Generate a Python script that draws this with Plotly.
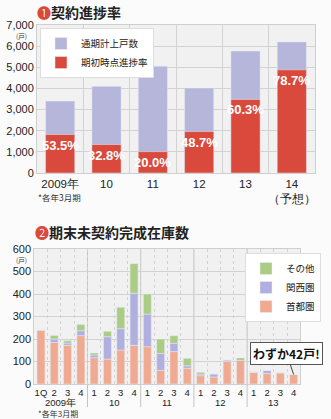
import plotly.graph_objects as go

# ---- Chart 1 data ----
years1 = ["2009年", "10", "11", "12", "13", "14<br>（予想）"]
total_units = [3400, 4100, 5050, 4020, 5770, 6200]
initial_units = [1820, 1345, 1010, 1960, 3480, 4880]
rate_labels = ["53.5%", "32.8%", "20.0%", "48.7%", "60.3%", "78.7%"]

# ---- Chart 2 data ----
year_groups = ["2009年"] * 4 + ["10"] * 4 + ["11"] * 4 + ["12"] * 4 + ["13"] * 4
quarters = ["1Q", "2", "3", "4"] + ["1", "2", "3", "4"] * 4
shutoken = [240, 185, 172, 215, 117, 111, 151, 172, 166, 61, 144, 70, 37, 31, 101, 105, 53, 47, 50, 42]
kansai = [0, 15, 10, 22, 12, 99, 95, 231, 145, 75, 37, 11, 7, 14, 6, 0, 0, 13, 0, 0]
other = [0, 16, 10, 28, 9, 24, 95, 132, 89, 64, 34, 33, 8, 0, 0, 11, 0, 0, 0, 0]

LAV = "#b6b5da"
RED = "#d94a3c"
PINK = "#f0aa92"
PURP = "#b1afdf"
GREEN = "#abcc84"
GRID = "#d2d2d2"
PLOTBG = "#f1f1f1"
NUMFONT = "Liberation Sans Narrow, Liberation Sans, sans-serif"
JPFONT = "Noto Sans CJK JP, sans-serif"

W, H = 331, 419
def px(x):
    return x / W
def py(y):
    return 1 - y / H

x1 = list(range(len(years1)))
x2 = list(range(len(quarters)))

fig = go.Figure()

# Chart 1 bars (overlay)
fig.add_trace(go.Bar(x=x1, y=total_units, name="通期計上戸数", marker_color=LAV,
                     width=0.63, xaxis="x", yaxis="y", legend="legend"))
fig.add_trace(go.Bar(x=x1, y=initial_units, name="期初時点進捗率", marker_color=RED,
                     width=0.63, xaxis="x", yaxis="y", legend="legend"))

# Chart 2 bars (stacked via base)
base_k = shutoken
base_o = [a + b for a, b in zip(shutoken, kansai)]
fig.add_trace(go.Bar(x=x2, y=shutoken, name="首都圏", marker_color=PINK, width=0.6,
                     xaxis="x2", yaxis="y2", legend="legend2"))
fig.add_trace(go.Bar(x=x2, y=kansai, base=base_k, name="関西圏", marker_color=PURP, width=0.6,
                     xaxis="x2", yaxis="y2", legend="legend2"))
fig.add_trace(go.Bar(x=x2, y=other, base=base_o, name="その他", marker_color=GREEN, width=0.6,
                     xaxis="x2", yaxis="y2", legend="legend2"))

annotations = []
# rate labels
for xi, yv, t in zip(x1, initial_units, rate_labels):
    annotations.append(dict(x=xi, y=yv, xref="x", yref="y", text="<b>" + t + "</b>",
                            showarrow=False, yanchor="top", yshift=-1,
                            font=dict(family=NUMFONT, size=13, color="white")))

# year group labels for chart 2 + dividers
groups = []
for i, g in enumerate(year_groups):
    if not groups or groups[-1][0] != g:
        groups.append([g, i, i])
    else:
        groups[-1][2] = i
for g, a, b in groups:
    annotations.append(dict(x=(a + b) / 2, y=py(402.5), xref="x2", yref="paper", text=g,
                            showarrow=False, yanchor="middle",
                            font=dict(family=NUMFONT, size=9.5, color="#222")))

# titles & notes
annotations += [
    dict(x=px(35), y=py(12), xref="paper", yref="paper", xanchor="left", yanchor="middle",
         text="<span style='color:#d94a3c'>❶</span><b>契約進捗率</b>", showarrow=False,
         font=dict(family=JPFONT, size=14, color="#222")),
    dict(x=px(29), y=py(36), xref="paper", yref="paper", xanchor="right", yanchor="middle",
         text="(戸)", showarrow=False, font=dict(family=JPFONT, size=6.5, color="#333")),
    dict(x=px(36), y=py(197), xref="paper", yref="paper", xanchor="left", yanchor="middle",
         text="*各年3月期", showarrow=False, font=dict(family=JPFONT, size=8.5, color="#333")),
    dict(x=px(33), y=py(232), xref="paper", yref="paper", xanchor="left", yanchor="middle",
         text="<span style='color:#d94a3c'>❷</span><b>期末未契約完成在庫数</b>", showarrow=False,
         font=dict(family=JPFONT, size=14, color="#222")),
    dict(x=px(29), y=py(260), xref="paper", yref="paper", xanchor="right", yanchor="middle",
         text="(戸)", showarrow=False, font=dict(family=JPFONT, size=6.5, color="#333")),
    dict(x=px(36), y=py(413.5), xref="paper", yref="paper", xanchor="left", yanchor="middle",
         text="*各年3月期", showarrow=False, font=dict(family=JPFONT, size=8, color="#333")),
    dict(x=x2[-1], y=shutoken[-1], xref="x2", yref="y2", text="<b>わずか42戸!</b>",
         showarrow=True, arrowhead=0, arrowwidth=1, arrowcolor="#444", ax=-7, ay=-21,
         bgcolor="white", bordercolor="#555", borderwidth=1, borderpad=2,
         font=dict(family=JPFONT, size=12, color="#111")),
]

shapes = []
for g, a, b in groups[1:]:
    shapes.append(dict(type="line", x0=a - 0.5, x1=a - 0.5, y0=py(407), y1=py(249),
                       xref="x2", yref="paper", line=dict(color="#c4c4c4", width=1), layer="below"))

fig.update_layout(
    width=W, height=H, margin=dict(l=0, r=0, t=0, b=0),
    paper_bgcolor="#fbfbfb", plot_bgcolor=PLOTBG,
    barmode="overlay",
    annotations=annotations, shapes=shapes,
    xaxis=dict(domain=[px(37), px(315)], anchor="y", range=[-0.5, 5.5],
               tickvals=x1, ticktext=years1, tickangle=0, showgrid=False,
               minor=dict(tickvals=[i + 0.5 for i in x1[:-1]], showgrid=True, gridcolor=GRID, ticks=""),
               showline=True, linecolor="#cfcfcf", mirror=True, ticks="", zeroline=False,
               tickfont=dict(family=NUMFONT, size=11.5, color="#222"), automargin=False),
    yaxis=dict(domain=[py(173), py(25)], anchor="x", range=[0, 7000], dtick=1000,
               tickformat=",d", showgrid=True, gridcolor=GRID, zeroline=False,
               showline=True, linecolor="#cfcfcf", mirror=True, ticks="",
               tickfont=dict(family=NUMFONT, size=11, color="#222"), automargin=False),
    xaxis2=dict(domain=[px(34.3), px(300.3)], anchor="y2", range=[-0.5, 19.5],
                tickvals=x2, ticktext=quarters, tickangle=0, showgrid=False, zeroline=False,
                minor=dict(tickvals=[i + 0.5 for i in x2[:-1]], showgrid=True, gridcolor=GRID,
                           griddash="dot", ticks=""),
                showline=True, linecolor="#cfcfcf", mirror=True, ticks="", ticklabelstandoff=0,
                tickfont=dict(family=NUMFONT, size=9.5, color="#222"), automargin=False),
    yaxis2=dict(domain=[py(384), py(249)], anchor="x2", range=[0, 600], dtick=100,
                showgrid=True, gridcolor=GRID, zeroline=False, showline=True, linecolor="#cfcfcf",
                mirror=True, ticks="", tickfont=dict(family=NUMFONT, size=11, color="#222"),
                automargin=False),
    legend=dict(x=px(40), y=py(28), xanchor="left", yanchor="top", bgcolor="white",
                bordercolor="#dddddd", borderwidth=1, font=dict(family=JPFONT, size=9.5, color="#222"),
                tracegroupgap=0, itemwidth=30),
    legend2=dict(x=px(245), y=py(253), xanchor="left", yanchor="top", bgcolor="white",
                 bordercolor="#dddddd", borderwidth=1, traceorder="reversed",
                 font=dict(family=JPFONT, size=9.5, color="#222"), itemwidth=30),
)

fig.write_html("out.html")
